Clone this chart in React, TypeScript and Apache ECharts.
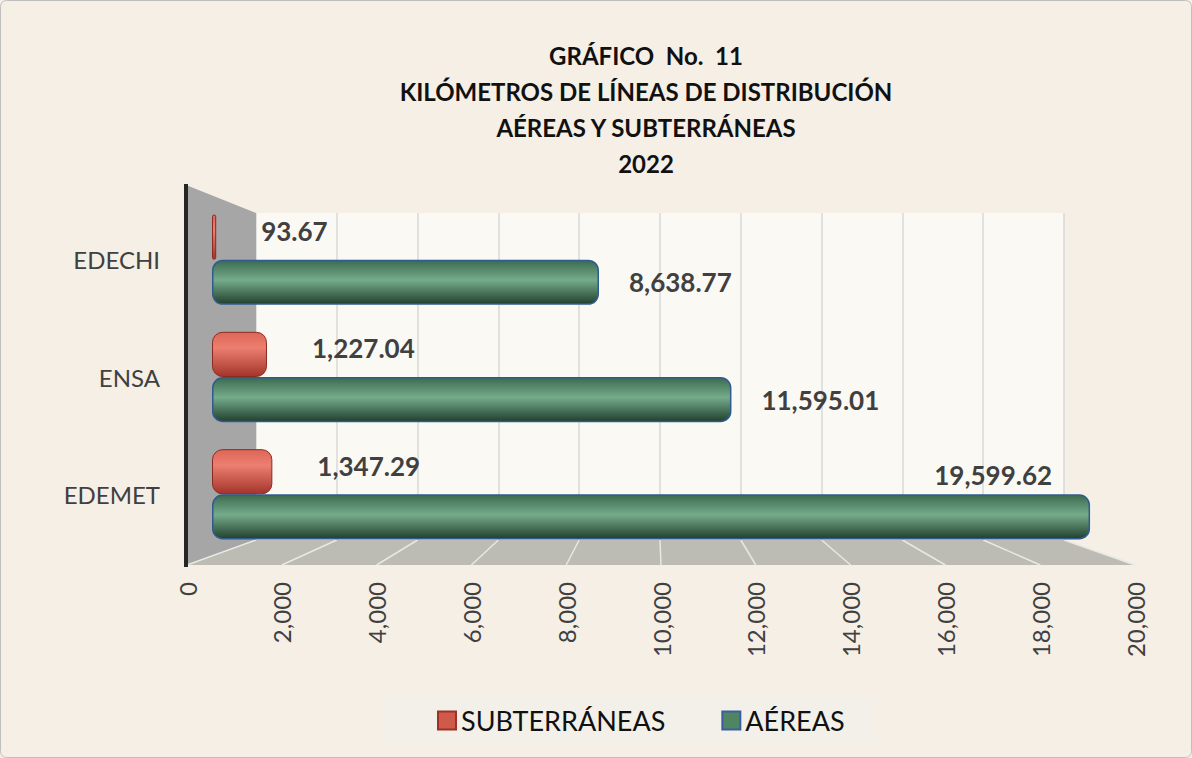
import React, { useEffect, useRef } from "react";
import * as echarts from "echarts";

const categories = ["EDECHI", "ENSA", "EDEMET"];
const subterraneas = [93.67, 1227.04, 1347.29];
const aereas = [8638.77, 11595.01, 19599.62];
const titleLines = ["GRÁFICO  No.  11", "KILÓMETROS DE LÍNEAS DE DISTRIBUCIÓN", "AÉREAS Y SUBTERRÁNEAS", "2022"];
const axisMin = 0;
const axisMax = 20000;
const axisStep = 2000;

const FONT = "Lato, 'Open Sans', sans-serif";
const fmt = (v: number) => v.toLocaleString("en-US", { minimumFractionDigits: 2, maximumFractionDigits: 2 });

// perspective geometry (decoration only)
const BACK_L = 256, BACK_R = 1064, BACK_T = 213, BACK_B = 540;
const FRONT_L = 187, FRONT_R = 1135, FRONT_B = 565;

export default function App() {
  const ref = useRef<HTMLDivElement>(null);
  useEffect(() => {
    document.body.style.margin = "0";
    const chart = echarts.init(ref.current!, null, { renderer: "svg" });
    const nTicks = (axisMax - axisMin) / axisStep;
    const floorLines: any[] = [];
    for (let i = 0; i <= nTicks; i++) {
      floorLines.push({
        type: "line",
        z: 1,
        shape: {
          x1: BACK_L + ((BACK_R - BACK_L) * i) / nTicks,
          y1: BACK_B,
          x2: FRONT_L + ((FRONT_R - FRONT_L) * i) / nTicks,
          y2: FRONT_B,
        },
        style: { stroke: "#e8e8e4", lineWidth: 1.5 },
      });
    }
    const redGrad = new echarts.graphic.LinearGradient(0, 0, 0, 1, [
      { offset: 0, color: "#de6657" },
      { offset: 0.35, color: "#ec7f70" },
      { offset: 1, color: "#a3342b" },
    ]);
    const greenGrad = new echarts.graphic.LinearGradient(0, 0, 0, 1, [
      { offset: 0, color: "#3c6b50" },
      { offset: 0.45, color: "#75ab8b" },
      { offset: 1, color: "#22402e" },
    ]);
    chart.setOption({
      animation: false,
      backgroundColor: "#f5efe6",
      title: {
        text: titleLines.join("\n"),
        left: 641,
        textAlign: "center",
        top: 32,
        textStyle: { fontFamily: FONT, fontWeight: "bold", fontSize: 24, lineHeight: 36, color: "#111" },
      },
      legend: {
        left: 383,
        top: 698,
        backgroundColor: "#f3f0ea",
        padding: [9, 30, 9, 54],
        itemWidth: 18,
        itemHeight: 18,
        itemGap: 56,
        icon: "rect",
        textStyle: { fontFamily: FONT, fontSize: 27, color: "#111" },
        data: [
          { name: "SUBTERRÁNEAS", itemStyle: { color: "#d05a4a", borderColor: "#9c3128", borderWidth: 2 } },
          { name: "AÉREAS", itemStyle: { color: "#4f8562", borderColor: "#3a5fa0", borderWidth: 2 } },
        ],
      },
      graphic: [
        {
          type: "rect",
          z: 0,
          shape: { x: 0.5, y: 0.5, width: 1191, height: 757, r: 6 },
          style: { fill: "none", stroke: "#bfbfbf", lineWidth: 1 },
        },
        {
          type: "polygon",
          z: 1,
          shape: { points: [[186, 185], [BACK_L, BACK_T], [BACK_L, BACK_B], [186, FRONT_B]] },
          style: { fill: "#a6a6a6" },
        },
        {
          type: "polygon",
          z: 1,
          shape: { points: [[BACK_L, BACK_B], [BACK_R, BACK_B], [FRONT_R, FRONT_B], [FRONT_L, FRONT_B]] },
          style: { fill: "#bcbcb4" },
        },
        ...floorLines,
        {
          type: "line",
          z: 3,
          shape: { x1: 186, y1: 184, x2: 186, y2: 567 },
          style: { stroke: "#262626", lineWidth: 4 },
        },
      ],
      grid: [
        { left: BACK_L, width: BACK_R - BACK_L, top: BACK_T, height: BACK_B - BACK_T, show: true, backgroundColor: "#fbf9f4", borderWidth: 0 },
        { left: FRONT_L, width: FRONT_R - FRONT_L, top: FRONT_B - 1, height: 1, show: false },
        { left: 212, width: 896, top: 201, height: 352, show: false },
      ],
      xAxis: [
        {
          gridIndex: 0, type: "value", min: axisMin, max: axisMax, interval: axisStep,
          axisLabel: { show: false }, axisLine: { show: false }, axisTick: { show: false },
          splitLine: { show: true, lineStyle: { color: "#d9d9d9", width: 1.5 } },
        },
        {
          gridIndex: 1, type: "value", min: axisMin, max: axisMax, interval: axisStep,
          axisLine: { show: false }, axisTick: { show: false }, splitLine: { show: false },
          axisLabel: {
            rotate: 90, margin: 17, fontFamily: FONT, fontSize: 24, color: "#404040",
            formatter: (v: number) => v.toLocaleString("en-US"),
          },
        },
        { gridIndex: 2, type: "value", min: axisMin, max: axisMax, show: false },
      ],
      yAxis: [
        { gridIndex: 0, type: "value", show: false },
        { gridIndex: 1, type: "value", show: false },
        {
          gridIndex: 2, type: "category", data: categories, inverse: true,
          axisLine: { show: false }, axisTick: { show: false },
          axisLabel: { margin: 52, fontFamily: FONT, fontSize: 24, color: "#404040" },
        },
      ],
      series: [
        {
          name: "SUBTERRÁNEAS",
          type: "bar",
          xAxisIndex: 2,
          yAxisIndex: 2,
          z: 4,
          barGap: "0%",
          barCategoryGap: "23%",
          data: subterraneas,
          itemStyle: { color: redGrad, borderColor: "#8c2a22", borderWidth: 1, borderRadius: 10 },
          label: {
            show: true, position: "right", distance: 45, offset: [0, -6],
            fontFamily: FONT, fontWeight: "bold", fontSize: 26, color: "#404040",
            formatter: (p: any) => fmt(p.value),
          },
        },
        {
          name: "AÉREAS",
          type: "bar",
          xAxisIndex: 2,
          yAxisIndex: 2,
          z: 4,
          barGap: "0%",
          barCategoryGap: "23%",
          data: aereas.map((v, i) =>
            i === aereas.length - 1
              ? { value: v, label: { position: ["100%", 0], align: "right", verticalAlign: "bottom", offset: [-38, -6] } }
              : v
          ),
          itemStyle: { color: greenGrad, borderColor: "#2f5c8f", borderWidth: 1.5, borderRadius: 10 },
          label: {
            show: true, position: "right", distance: 30,
            fontFamily: FONT, fontWeight: "bold", fontSize: 26, color: "#404040",
            formatter: (p: any) => fmt(p.value),
          },
        },
      ],
    });
    return () => chart.dispose();
  }, []);
  return <div ref={ref} style={{ width: 1192, height: 758 }} />;
}
